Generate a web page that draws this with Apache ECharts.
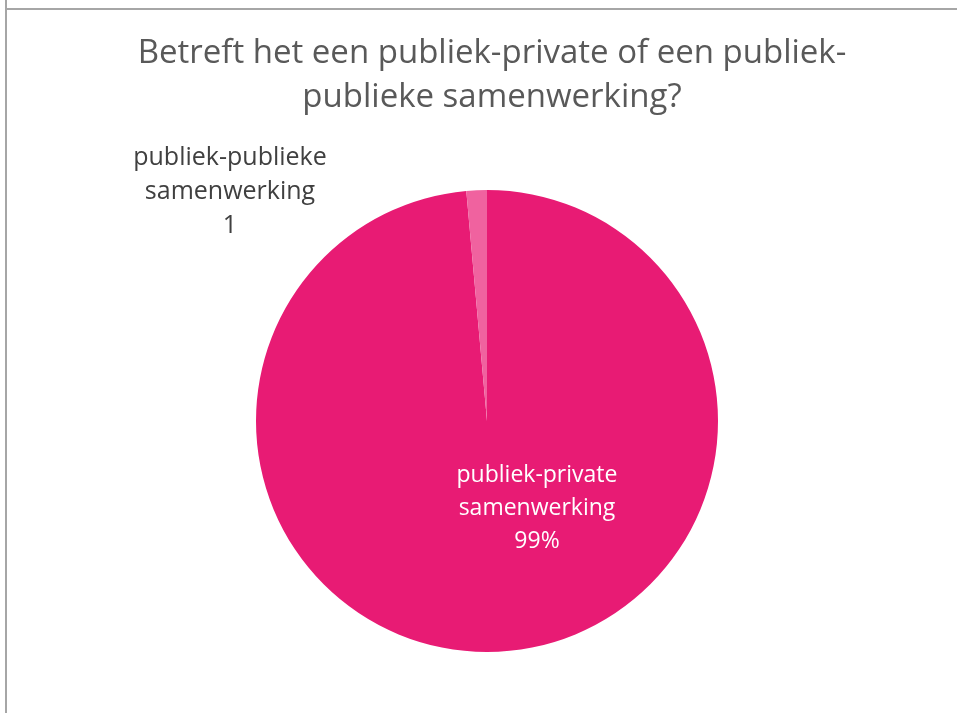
<!DOCTYPE html>
<html>
<head>
<meta charset="utf-8">
<script src="https://cdn.jsdelivr.net/npm/echarts@6/dist/echarts.min.js"></script>
<style>
  html, body { margin: 0; padding: 0; background: #fff; }
  #chart { width: 957px; height: 713px; }
</style>
</head>
<body>
<div id="chart"></div>
<script>
// slices in clockwise order from 12 o'clock
const categories = ['publiek-private samenwerking', 'publiek-publieke samenwerking']
const values = [69, 1]
const sliceColors = ['#E81B74', '#F0629F']

const chart = echarts.init(document.getElementById('chart'))

const option = {
  backgroundColor: '#fff',
  animation: false,
  textStyle: { fontFamily: '"Open Sans", sans-serif' },
  title: {
    text: 'Betreft het een publiek-private of een publiek-\npublieke samenwerking?',
    left: 487,
    top: 27,
    textAlign: 'center',
    textStyle: {
      fontFamily: '"Open Sans", sans-serif',
      fontWeight: 'normal',
      fontSize: 33,
      lineHeight: 44,
      color: '#595959'
    }
  },
  graphic: [
    { type: 'line', shape: { x1: 6, y1: 0, x2: 6, y2: 713 }, style: { stroke: '#a6a6a6', lineWidth: 2 } },
    { type: 'line', shape: { x1: 5, y1: 9, x2: 957, y2: 9 }, style: { stroke: '#a6a6a6', lineWidth: 2 } }
  ],
  series: [
    {
      type: 'pie',
      center: [487, 421],
      radius: 231,
      startAngle: 90,
      clockwise: true,
      percentPrecision: 0,
      avoidLabelOverlap: false,
      labelLine: { show: false },
      itemStyle: { borderWidth: 0 },
      data: categories.map((name, i) => ({
        name: name,
        value: values[i],
        itemStyle: { color: sliceColors[i] },
        label: i === 0
          ? {
              show: true,
              position: 'inside',
              formatter: p => p.name.replace(' ', '\n') + '\n' + Math.round(p.percent) + '%',
              color: '#fff',
              fontSize: 23,
              lineHeight: 33,
              align: 'center'
            }
          : {
              show: true,
              position: 'outside',
              formatter: p => p.name.replace(' ', '\n') + '\n' + p.value,
              color: '#404040',
              fontSize: 25,
              lineHeight: 34,
              align: 'center'
            }
      })),
      labelLayout: function (params) {
        if (params.dataIndex === 0) {
          return { x: 537, y: 508, align: 'center', verticalAlign: 'middle' }
        }
        return { x: 230, y: 192, align: 'center', verticalAlign: 'middle' }
      }
    }
  ]
}

chart.setOption(option)
window.addEventListener('resize', () => chart.resize())
</script>
</body>
</html>
